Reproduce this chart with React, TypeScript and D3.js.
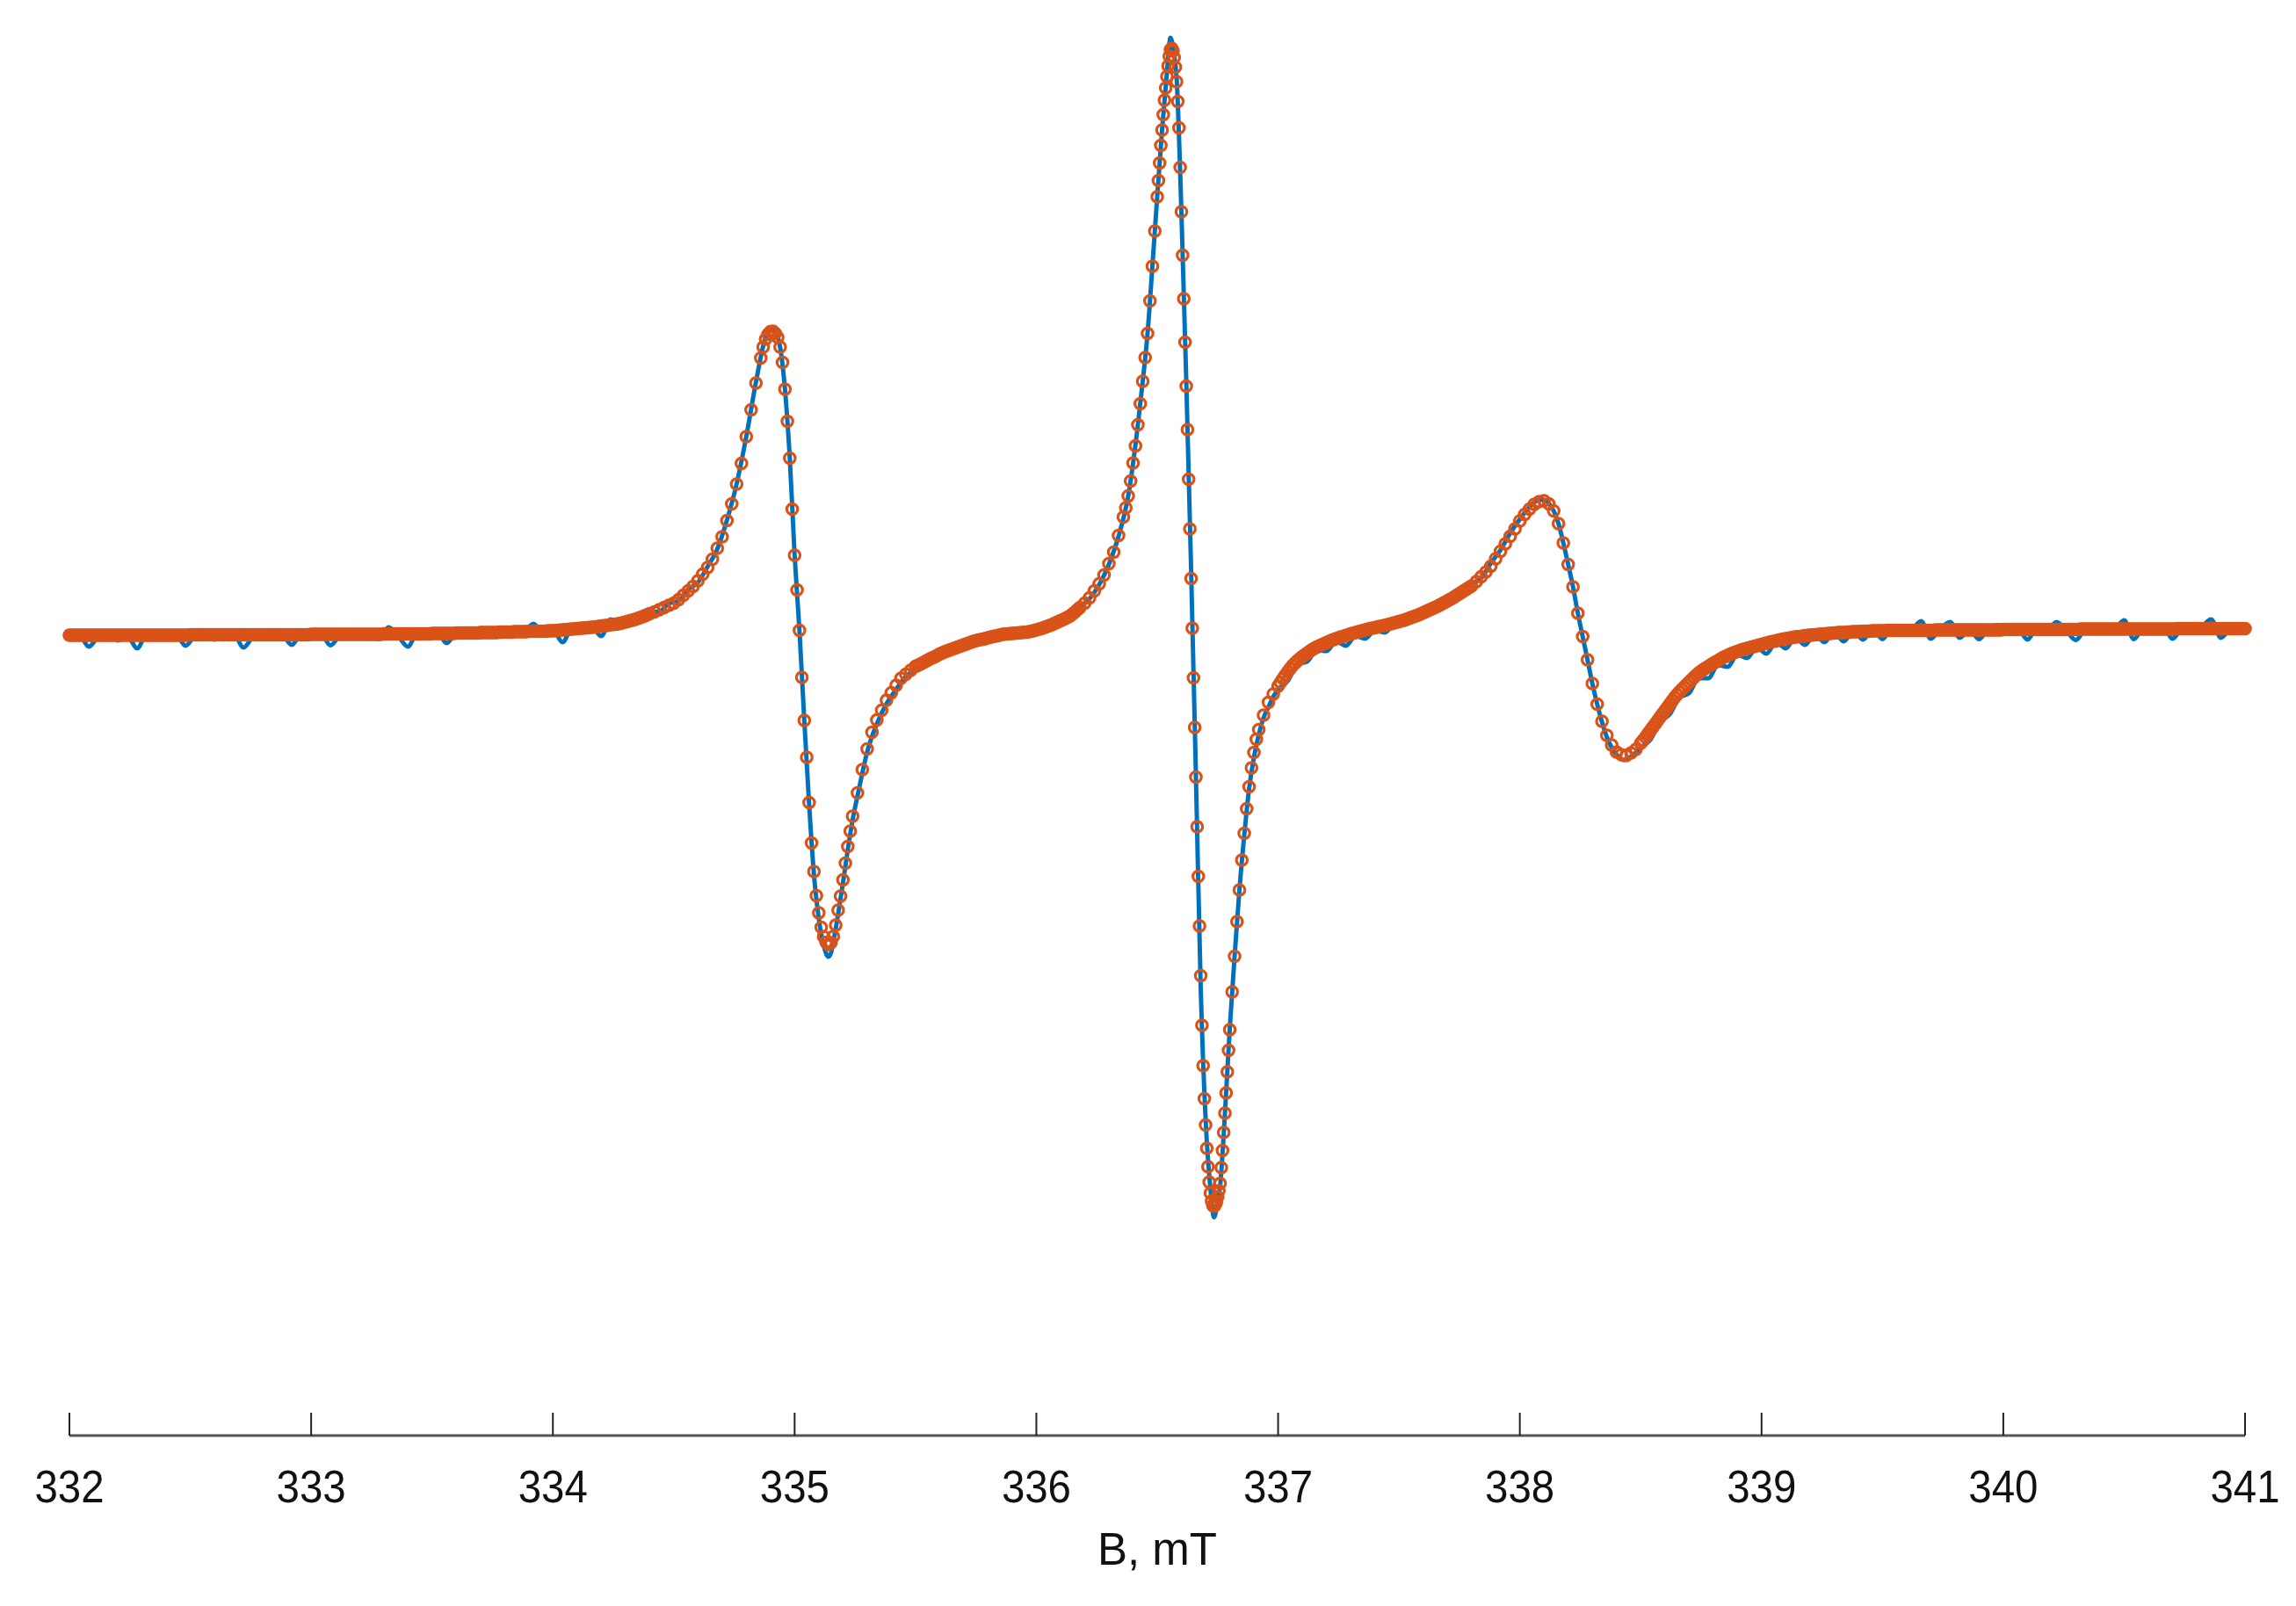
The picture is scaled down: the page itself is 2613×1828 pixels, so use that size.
import React from "react";
import * as d3 from "d3";

const W = 2613;
const H = 1828;

// Axis
const xTicks = [332, 333, 334, 335, 336, 337, 338, 339, 340, 341];
const xLabel = "B, mT";

// Simulated (fit) spectrum, arbitrary units, sampled in segments (start, step)
const fitA1 = [
  0, 0, 0, 0, 0, 0, 0, 0, 0, 0,
  0, 0, 0, 0, 0, 0, 0, 0, 0, 0,
  0, 0, 0, 0, 0, 0, 0, 0, 0, 0,
  0, 0, 0, 0, 0, 0, 0, 0, 0, 0,
  0, 0, 0, 0, 0, 0, 0, 0, 0, 0,
  0.1, 0.1, 0.1, 0.1, 0.1, 0.1, 0.1, 0.1, 0.1, 0.1,
  0.1, 0.1, 0.1, 0.1, 0.1, 0.1, 0.1, 0.1, 0.1, 0.1,
  0.1, 0.1, 0.1, 0.1, 0.1, 0.1, 0.1, 0.1, 0.1, 0.1,
  0.1, 0.1, 0.1, 0.1, 0.1, 0.1, 0.1, 0.1, 0.1, 0.1,
  0.1, 0.1, 0.1, 0.1, 0.1, 0.1, 0.1, 0.1, 0.1, 0.1,
  0.2, 0.2, 0.2, 0.2, 0.2, 0.2, 0.2, 0.2, 0.2, 0.2,
  0.2, 0.2, 0.2, 0.2, 0.2, 0.2, 0.2, 0.2, 0.2, 0.2,
  0.2, 0.2, 0.2, 0.2, 0.2, 0.2, 0.2, 0.2, 0.2, 0.2,
  0.3, 0.3, 0.3, 0.3, 0.3, 0.3, 0.3, 0.3, 0.3, 0.3,
  0.3, 0.3, 0.3, 0.3, 0.3, 0.3, 0.3, 0.3, 0.3, 0.3,
  0.4, 0.4, 0.4, 0.4, 0.4, 0.4, 0.4, 0.4, 0.4, 0.4,
  0.5, 0.5, 0.5, 0.5, 0.5, 0.5, 0.5, 0.5, 0.5, 0.5,
  0.6, 0.6, 0.6, 0.6, 0.6, 0.6, 0.6, 0.6, 0.7, 0.7,
  0.7, 0.7, 0.7, 0.7, 0.8, 0.8, 0.8, 0.8, 0.8, 0.8,
  0.9, 0.9, 0.9, 0.9, 0.9, 0.9, 0.9, 0.9, 1.0, 1.0,
];
const fitA2 = [
  1.0, 1.05, 1.1, 1.15, 1.2, 1.25, 1.3, 1.35, 1.4, 1.45,
  1.5, 1.55, 1.6, 1.65, 1.7, 1.75, 1.8, 1.85, 1.9, 2.0,
  2.1, 2.15, 2.2, 2.3, 2.4, 2.45, 2.5, 2.6, 2.7, 2.85,
  3.0, 3.15, 3.3, 3.45, 3.6, 3.8, 4.0, 4.2, 4.4, 4.65,
];
const fitA3 = [
  4.9, 5.3, 5.8, 6.3, 6.8, 7.3, 8.1, 9.1, 10.1, 11.1,
  12.4, 13.9, 15.4, 17.3, 19.8, 22.4, 26.1, 29.9, 34.4, 39.1,
  45.2, 51.3, 57.4,
];
const fitB = [
  63.1, 65.6, 67.4, 68.5, 69.1, 69.2, 68.7, 67.8, 65.6, 62.1,
  56.0, 48.7, 40.3, 28.7, 18.2, 10.3, 1.1, -9.6, -19.4, -27.8,
  -38.1, -47.3, -53.8, -59.3, -63.2, -66.5, -68.6, -69.9, -70.4, -70.0,
  -68.6, -66.0, -62.6, -59.4, -55.7, -51.9, -48.1, -44.6, -41.2,
];
const fitC1 = [-35.9, -30.6, -25.9, -22.1, -19.3, -17.1, -14.8, -13.1, -11.4, -9.8, -8.9, -8.0];
const fitC2 = [
  -7.1, -6.85, -6.6, -6.3, -6.0, -5.7, -5.4, -5.15, -4.9, -4.6,
  -4.3, -4.05, -3.8, -3.6, -3.4, -3.2, -3.0, -2.8, -2.6, -2.4,
  -2.2, -2.0, -1.8, -1.6, -1.4, -1.25, -1.1, -1.0, -0.9, -0.75,
  -0.6, -0.45, -0.3, -0.2, -0.1, 0.05, 0.2, 0.25, 0.3, 0.35,
  0.4, 0.45, 0.5, 0.55, 0.6, 0.65, 0.7, 0.8, 0.9, 1.05,
  1.2, 1.35, 1.5, 1.7, 1.9, 2.1, 2.3, 2.55, 2.8, 3.05,
  3.3, 3.55, 3.8, 4.1, 4.4, 4.85, 5.3, 5.8, 6.3,
];
const fitC3 = [7.3, 8.5, 10.1, 11.7, 13.7, 16.3, 18.9, 22.7];
const fitD = [26.9, 29.0, 31.7, 35.1, 39.2, 43.1, 47.9, 52.7, 57.8, 63.2, 68.7, 76.1, 84.0, 92.0];
const fitE = [
  99.8, 103.5, 107.5, 111.5, 115.0, 118.5, 121.8, 124.6, 127.2, 129.6,
  131.8, 133.3, 133.6, 133.0, 131.5, 129.3, 126.0, 121.5, 115.5, 106.5,
  96.4, 86.5, 76.6, 66.7, 56.7, 46.8, 35.5, 24.2, 12.9, 1.6,
  -9.7, -21.0, -32.3, -43.6, -54.9, -66.2, -77.5, -88.8, -98.0, -105.5,
  -111.5, -116.8, -121.0, -124.5, -127.0, -128.8, -129.8, -130.0, -129.7, -129.0,
  -127.9, -126.5, -124.8, -121.2, -117.3, -113.2, -108.8, -104.2, -99.4, -94.5,
  -89.8,
];
const fitF = [-81.2, -73.1, -65.2, -58.0, -51.2, -45.1, -39.5, -34.5, -30.2, -26.7, -23.7, -21.5];
const fitG1 = [-18.2, -15.3, -13.4];
const fitG2 = [
  -11.6, -10.75, -9.9, -9.1, -8.3, -7.6, -6.9, -6.35, -5.8, -5.35,
  -4.9, -4.5, -4.1, -3.7, -3.3, -3.0, -2.7, -2.45, -2.2, -1.95,
  -1.7, -1.45, -1.2, -1.0, -0.8, -0.6, -0.4, -0.25, -0.1, 0.1,
  0.3, 0.45, 0.6, 0.75, 0.9, 1.05, 1.2, 1.35, 1.5, 1.6,
  1.7, 1.85, 2.0, 2.1, 2.2, 2.35, 2.5, 2.65, 2.8, 2.95,
  3.1, 3.25, 3.4, 3.6, 3.8, 4.0, 4.2, 4.4, 4.6, 4.85,
  5.1, 5.35, 5.6, 5.85, 6.1, 6.35, 6.6, 6.9, 7.2, 7.5,
  7.8, 8.1, 8.4, 8.75, 9.1, 9.45, 9.8, 10.15, 10.5, 10.85,
];
const fitG3 = [
  11.2, 12.2, 13.3, 14.4, 15.7, 17.4, 19.1, 20.8, 22.5, 24.2,
  26.0, 27.5, 28.7, 29.8, 30.4, 30.6, 29.9, 28.3, 25.4, 21.0,
  16.1, 11.0, 5.0, -0.3, -5.6, -11.0, -15.7, -19.6, -22.8, -25.0,
  -26.6, -27.2, -27.4, -26.8, -26.0,
];
const fitG4 = [
  -24.6, -23.9, -23.2, -22.45, -21.7, -20.95, -20.2, -19.45, -18.7, -17.95,
  -17.2, -16.45, -15.7, -14.95, -14.2, -13.55, -12.9, -12.35, -11.8, -11.25,
  -10.7, -10.15, -9.6, -9.1, -8.6, -8.2, -7.8, -7.45, -7.1, -6.75,
  -6.4, -6.1, -5.8, -5.45, -5.1, -4.85, -4.6, -4.35, -4.1, -3.9,
  -3.7, -3.5, -3.3, -3.15, -3.0, -2.85, -2.7, -2.55, -2.4, -2.25,
  -2.1, -1.95, -1.8, -1.65, -1.5, -1.4, -1.3, -1.15, -1.0, -0.9,
  -0.8, -0.7, -0.6, -0.5, -0.4, -0.35, -0.3, -0.2, -0.1, -0.05,
];
const fitG5 = [
  0.0, 0.05, 0.1, 0.15, 0.2, 0.25, 0.3, 0.35, 0.4, 0.45,
  0.5, 0.55, 0.6, 0.6, 0.6, 0.65, 0.7, 0.75, 0.8, 0.8,
  0.8, 0.85, 0.9, 0.9, 0.9, 0.95,
  1.0, 1.0, 1.0, 1.0, 1.0, 1.0,
  1.1, 1.1, 1.1, 1.1, 1.1, 1.1, 1.1, 1.1, 1.1, 1.1,
  1.1, 1.1, 1.1, 1.1, 1.1, 1.1, 1.1, 1.1, 1.1, 1.1,
  1.2, 1.2, 1.2, 1.2, 1.2, 1.2, 1.2, 1.2, 1.2, 1.2,
  1.2, 1.2, 1.2, 1.2, 1.2, 1.2, 1.2, 1.2, 1.2, 1.2,
  1.2, 1.2, 1.2, 1.2, 1.2, 1.2, 1.2, 1.2,
  1.3, 1.3, 1.3, 1.3, 1.3, 1.3, 1.3, 1.3, 1.3, 1.3,
  1.3, 1.3, 1.3, 1.3, 1.3, 1.3, 1.3, 1.3, 1.3, 1.3,
  1.3, 1.3, 1.3, 1.3, 1.3, 1.3, 1.3, 1.3, 1.3, 1.3,
  1.3, 1.3,
  1.4, 1.4, 1.4, 1.4, 1.4, 1.4, 1.4, 1.4, 1.4, 1.4,
  1.4, 1.4, 1.4, 1.4, 1.4, 1.4, 1.4, 1.4, 1.4, 1.4,
  1.4, 1.4, 1.4, 1.4, 1.4, 1.4, 1.4, 1.4, 1.4, 1.4,
  1.4, 1.4, 1.4, 1.4, 1.4, 1.4, 1.4, 1.4, 1.4, 1.4,
  1.5, 1.5, 1.5, 1.5, 1.5, 1.5, 1.5, 1.5, 1.5, 1.5,
  1.5, 1.5, 1.5, 1.5, 1.5, 1.5, 1.5, 1.5, 1.5, 1.5,
  1.5, 1.5, 1.5, 1.5, 1.5, 1.5, 1.5, 1.5, 1.5,
];
const fitSegments = [fitA1, fitA2, fitA3, fitB, fitC1, fitC2, fitC3, fitD, fitE, fitF, fitG1, fitG2, fitG3, fitG4, fitG5];
const fitStarts = [332.0, 334.0, 334.4, 334.86, 335.26, 335.5, 336.2, 336.36, 336.5, 336.81, 336.94, 337.0, 337.8, 338.5, 339.2];
const fitSteps = [0.01, 0.01, 0.02, 0.01, 0.02, 0.01, 0.02, 0.01, 0.005, 0.01, 0.02, 0.01, 0.02, 0.01, 0.01];

// Experimental spectrum [B (mT), signal (a.u.)]
const expPoints = [
  [332.00, -0.6], [332.04, 0.2], [332.08, -2.6], [332.12, -0.3], [332.16, 0.4], [332.20, -1.2],
  [332.24, -0.2], [332.28, -3.0], [332.32, 0.1], [332.36, -0.5], [332.40, -0.9], [332.44, 0.3],
  [332.48, -2.4], [332.52, -0.1], [332.56, 0.5], [332.60, -1.0], [332.64, -0.4], [332.68, 0.2],
  [332.72, -2.8], [332.76, -0.3], [332.80, 0.6], [332.84, -0.8], [332.88, -0.1], [332.92, -2.2],
  [332.96, 0.4], [333.00, -0.5], [333.04, 0.3], [333.08, -2.3], [333.12, 0.0], [333.16, 0.6],
  [333.20, -0.7], [333.24, 0.2], [333.28, -0.9], [333.32, 1.8], [333.36, -0.2], [333.40, -2.6],
  [333.44, 0.5], [333.48, -0.4], [333.52, 0.9], [333.56, -1.8], [333.60, 0.3], [333.64, -0.2],
  [333.68, 1.1], [333.72, -0.3], [333.76, 0.4], [333.80, 1.3], [333.84, -0.1], [333.88, 0.6],
  [333.92, 2.6], [333.96, 0.2], [334.00, 1.2], [334.04, -1.6], [334.08, 1.7], [334.12, 0.9],
  [334.16, 2.0], [334.20, -0.2], [334.24, 3.6], [334.28, 2.2], [334.32, 3.6], [334.36, 3.5],
  [334.40, 5.2], [334.44, 5.4], [334.48, 7.2], [334.52, 7.8], [334.56, 10.4], [334.60, 12.0],
  [334.64, 15.6], [334.68, 19.6], [334.72, 26.2], [334.76, 34.4], [334.80, 45.2], [334.84, 57.6],
  [334.88, 67.8], [334.90, 69.6], [334.92, 69.0], [334.94, 65.6], [334.96, 56.0], [334.98, 40.3],
  [335.00, 18.2], [335.02, 1.1], [335.04, -19.4], [335.06, -38.5], [335.08, -54.5], [335.10, -64.5],
  [335.12, -70.6], [335.14, -73.2], [335.15, -72.4], [335.16, -69.8], [335.18, -63.5], [335.20, -56.4],
  [335.22, -48.8], [335.24, -42.0], [335.26, -36.6], [335.28, -31.4], [335.30, -26.6], [335.34, -20.2],
  [335.38, -15.6], [335.42, -12.3], [335.46, -9.4], [335.50, -7.9], [335.54, -6.4], [335.58, -5.6],
  [335.62, -4.3], [335.66, -3.9], [335.70, -2.6], [335.74, -2.4], [335.78, -1.2], [335.82, -1.0],
  [335.86, 0.0], [335.90, -0.2], [335.94, 0.7], [335.98, 0.4], [336.02, 1.6], [336.06, 1.9],
  [336.10, 3.4], [336.14, 4.1], [336.18, 6.3], [336.22, 8.3], [336.26, 11.5], [336.30, 16.1],
  [336.34, 22.5], [336.38, 31.7], [336.42, 47.9], [336.44, 57.8], [336.46, 68.7], [336.48, 84.0],
  [336.50, 99.8], [336.52, 115.0], [336.54, 128.0], [336.555, 136.0], [336.57, 132.0], [336.58, 127.0],
  [336.60, 96.4], [336.62, 58.3], [336.64, 15.4], [336.66, -31.8], [336.68, -80.5], [336.70, -110.0],
  [336.72, -126.0], [336.735, -132.5], [336.75, -129.0], [336.76, -125.5], [336.78, -109.0], [336.80, -89.6],
  [336.82, -73.1], [336.84, -58.0], [336.86, -45.6], [336.88, -35.0], [336.90, -27.8], [336.92, -22.6],
  [336.94, -18.8], [336.96, -16.4], [336.98, -14.0], [337.00, -12.4], [337.04, -10.4], [337.08, -6.6],
  [337.12, -6.0], [337.16, -3.4], [337.20, -3.6], [337.24, -1.4], [337.28, -2.4], [337.32, -0.2],
  [337.36, -0.8], [337.40, 1.1], [337.44, 0.6], [337.48, 2.3], [337.52, 2.4], [337.56, 3.9],
  [337.60, 4.4], [337.64, 6.0], [337.68, 6.6], [337.72, 8.6], [337.76, 9.4], [337.80, 11.6],
  [337.84, 13.0], [337.88, 16.4], [337.92, 19.4], [337.96, 23.2], [338.00, 26.4], [338.04, 29.2],
  [338.08, 30.8], [338.10, 30.8], [338.12, 30.0], [338.14, 28.3], [338.16, 25.4], [338.18, 21.0],
  [338.20, 16.1], [338.22, 11.0], [338.24, 5.0], [338.26, -0.3], [338.28, -5.6], [338.30, -11.0],
  [338.32, -15.7], [338.34, -19.8], [338.36, -23.2], [338.38, -25.6], [338.40, -27.2], [338.43, -28.4],
  [338.46, -27.6], [338.50, -25.6], [338.54, -23.8], [338.58, -19.8], [338.62, -18.0], [338.66, -14.2],
  [338.70, -13.2], [338.74, -9.8], [338.78, -9.8], [338.82, -6.8], [338.86, -7.2], [338.90, -4.4],
  [338.94, -5.2], [338.98, -2.8], [339.02, -4.2], [339.06, -1.6], [339.10, -3.0], [339.14, -0.5],
  [339.18, -2.2], [339.22, 0.3], [339.26, -1.6], [339.30, 0.8], [339.34, -1.4], [339.38, 1.0],
  [339.42, -1.0], [339.46, 1.4], [339.50, -0.9], [339.54, 1.8], [339.58, 0.6], [339.62, 1.2],
  [339.66, 3.2], [339.70, -0.8], [339.74, 1.5], [339.78, 3.0], [339.82, -0.6], [339.86, 1.3],
  [339.90, -0.9], [339.94, 1.6], [339.98, 2.3], [340.02, 0.8], [340.06, 1.4], [340.10, -1.0],
  [340.14, 1.7], [340.18, 0.9], [340.22, 3.0], [340.26, 1.1], [340.30, -1.1], [340.34, 1.5],
  [340.38, 2.1], [340.42, 0.6], [340.46, 1.3], [340.50, 3.4], [340.54, -0.9], [340.58, 1.6],
  [340.62, 1.0], [340.66, 2.2], [340.70, -0.8], [340.74, 1.4], [340.78, 0.8], [340.82, 1.9],
  [340.86, 3.6], [340.90, -0.6], [340.94, 1.5], [340.98, 2.0], [341.00, 1.6],
];

const BLUE = "#0072BD";
const ORANGE = "#D95319";
const FONT = "'Liberation Sans', Arial, Helvetica, sans-serif";

export default function App() {
  const x = d3.scaleLinear().domain([332, 341]).range([79, 2555]);
  const y = d3.scaleLinear().domain([-140, 140]).range([1423, 23]);
  const axisY = 1634;
  const tickLen = 26;

  const fitPoints: { b: number; v: number }[] = [];
  fitSegments.forEach((seg, si) => {
    seg.forEach((v, i) => {
      fitPoints.push({ b: fitStarts[si] + i * fitSteps[si], v });
    });
  });

  const line = d3
    .line<number[]>()
    .x((d) => x(d[0]))
    .y((d) => y(d[1]))
    .curve(d3.curveMonotoneX);

  return (
    <svg
      width={W}
      height={H}
      viewBox={`0 0 ${W} ${H}`}
      style={{ position: "absolute", left: 0, top: 0, background: "#fff" }}
    >
      <rect x={0} y={0} width={W} height={H} fill="#fff" />
      <path d={line(expPoints as number[][]) || ""} fill="none" stroke={BLUE} strokeWidth={5} strokeLinejoin="round" />
      <g>
        {fitPoints.map((p, i) => (
          <circle key={i} cx={x(p.b)} cy={y(p.v)} r={6.2} fill="none" stroke={ORANGE} strokeWidth={3.2} />
        ))}
      </g>
      <line x1={x(332)} x2={x(341)} y1={axisY} y2={axisY} stroke="#555" strokeWidth={3} />
      {xTicks.map((t) => (
        <g key={t}>
          <line x1={x(t)} x2={x(t)} y1={axisY} y2={axisY - tickLen} stroke="#222" strokeWidth={2} />
          <text
            transform={`translate(${x(t)},1710) scale(0.93,1)`}
            textAnchor="middle"
            fontFamily={FONT}
            fontSize={51}
            fill="#111"
          >
            {t}
          </text>
        </g>
      ))}
      <text
        transform={`translate(${(x(332) + x(341)) / 2},1781)`}
        textAnchor="middle"
        fontFamily={FONT}
        fontSize={51}
        fill="#111"
      >
        {xLabel}
      </text>
    </svg>
  );
}
